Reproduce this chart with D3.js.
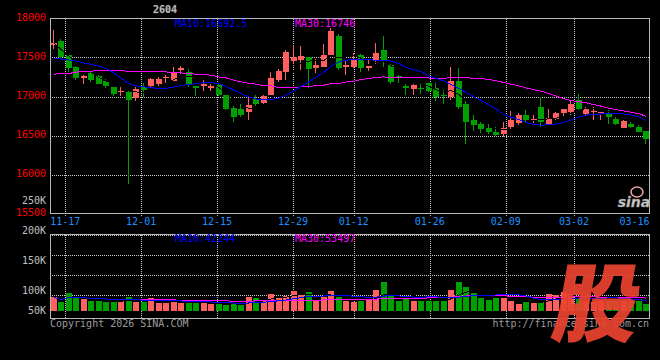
<!DOCTYPE html>
<html><head><meta charset="utf-8">
<script src="https://cdnjs.cloudflare.com/ajax/libs/d3/7.8.5/d3.min.js"></script>
<style>html,body{margin:0;padding:0;background:#000;} svg{display:block;}</style>
</head><body>
<svg id="chart" width="660" height="360"></svg>
<script>
// ---------- data ----------
const title = "2604";
const dates = ["11-13","11-14","11-17","11-18","11-19","11-20","11-21","11-24","11-25","11-26","11-27","11-28",
"12-01","12-02","12-03","12-04","12-05","12-08","12-09","12-10","12-11","12-12","12-15","12-16","12-17","12-18","12-19",
"12-22","12-23","12-24","12-25","12-26","12-29","12-30","12-31",
"01-05","01-06","01-07","01-08","01-09","01-12","01-13","01-14","01-15","01-16","01-19","01-20","01-21","01-22","01-23",
"01-26","01-27","01-28","01-29","01-30",
"02-02","02-03","02-04","02-05","02-06","02-09","02-10","02-11","02-12","02-13","02-24","02-25","02-26","02-27",
"03-02","03-03","03-04","03-05","03-06","03-09","03-10","03-11","03-12","03-13","03-16"];
const open  = [17665,17709,17529,17375,17231,17302,17260,17196,17123,17055,17059,16982,17123,17132,17158,17231,17200,17346,17308,17141,
17141,17110,17145,17017,16854,16837,16795,16965,16918,17017,17209,17315,17452,17469,17504,17367,17380,17529,17777,17380,
17380,17538,17367,17453,17593,17401,17260,17132,17090,17115,17167,17110,17017,16995,17196,16910,16696,16645,16590,16546,
16517,16610,16661,16768,16696,16859,16653,16709,16790,16795,16952,16782,16803,16790,16782,16709,16602,16645,16610,16555];
const high  = [17850,17735,17535,17388,17273,17315,17282,17230,17123,17128,17081,17123,17179,17238,17251,17282,17376,17392,17350,17141,
17222,17154,17166,17017,16875,16910,16995,17025,17025,17315,17350,17593,17658,17645,17504,17487,17679,17872,17799,17465,
17564,17551,17487,17687,17773,17423,17282,17166,17154,17179,17174,17167,17081,17380,17367,16965,16760,16674,16645,16603,
16674,16811,16790,16824,16768,16995,16846,16803,16846,16940,17029,16867,16867,16803,16824,16738,16696,16674,16632,16555];
const low   = [17615,17497,17315,17209,17158,17187,17154,17110,17004,17004,15876,16940,16995,17123,17132,17154,17196,17290,17123,17004,
17072,17072,17008,16824,16674,16738,16696,16880,16901,17017,17187,17187,17423,17337,17110,17295,17380,17529,17337,17273,
17359,17315,17324,17423,17380,17154,17179,17025,17017,17038,17059,16940,16901,16952,16837,16397,16555,16533,16517,16495,
16482,16568,16632,16674,16661,16610,16632,16696,16738,16760,16815,16760,16695,16705,16653,16632,16590,16597,16546,16388];
const close = [17690,17508,17359,17231,17260,17209,17161,17136,17038,17068,16956,17093,17077,17222,17222,17244,17308,17359,17158,17115,
17154,17132,17017,16837,16738,16769,16888,16910,17004,17238,17324,17572,17504,17517,17350,17401,17529,17837,17367,17401,
17487,17359,17393,17555,17465,17187,17231,17110,17145,17102,17072,16995,17004,17196,16867,16674,16632,16580,16546,16504,
16590,16696,16760,16696,16709,16674,16725,16794,16846,16910,16837,16846,16811,16798,16738,16645,16683,16610,16546,16449];
const ma10 = [17487,17481,17468,17452,17431,17411,17392,17356,17305,17235,17167,17135,17123,17111,17105,17106,17122,17141,17154,17164,
17179,17179,17167,17128,17082,17035,16995,16968,16961,16961,16981,17020,17072,17129,17188,17250,17309,17391,17443,17465,
17476,17477,17469,17467,17463,17454,17423,17372,17343,17318,17263,17229,17203,17151,17103,17052,16997,16950,16895,16837,
16770,16733,16705,16664,16642,16633,16638,16647,16668,16701,16737,16760,16772,16776,16782,16782,16776,16763,16738,16692.5];
const ma30 = [17286,17295,17295,17312,17324,17324,17337,17337,17337,17337,17315,17315,17315,17315,17315,17315,17308,17302,17295,17286,
17282,17273,17251,17238,17209,17187,17170,17158,17138,17136,17115,17115,17115,17123,17123,17145,17145,17167,17167,17187,
17196,17218,17231,17244,17251,17244,17244,17244,17244,17244,17237,17231,17231,17244,17244,17244,17231,17231,17218,17202,
17179,17158,17136,17109,17087,17068,17036,17004,16972,16949,16933,16918,16897,16876,16850,16831,16815,16799,16780,16746];
const volume = [56000,38000,73000,56000,48000,42000,42000,38000,38000,41000,56000,38000,38000,52000,34000,34000,45000,34000,34000,34000,
34000,29000,29000,25000,29000,25000,56000,52000,45000,70000,56000,62000,82000,70000,78000,42000,56000,82000,56000,42000,
38000,41000,49000,86000,120000,66000,41000,49000,41000,41000,41000,41000,41000,86000,120000,98000,75000,55000,45000,55000,
55000,41000,29000,38000,32000,38000,70000,66000,78000,70000,49000,41000,37000,41000,45000,41000,45000,45000,49000,29000];
const priceTicks = [15500,16000,16500,17000,17500,18000];
const volGridTicks = [50000,100000,150000,200000];
const volLabelTicks = [250000,200000,150000,100000,50000];
const dateTickIdx = [2,12,22,32,40,50,60,69,79];
const priceMaText = ["MA10:16692.5","MA30:16746"];
const volMaText = ["MA10:42244","MA30:53497"];

// ---------- layout ----------
const W = 660, H = 360;
const plotL = 50, plotR = 650;
const priceTop = 18.5, priceBot = 213.5, volTop = 234.5, volBot = 318.5;
const UP = "#FF5F5F", DOWN = "#00A000", GRID = "#C8C8C8", BORDER = "#B8B8B8";
const FONT = "'DejaVu Sans Mono', monospace";

const svg = d3.select("#chart");
svg.append("rect").attr("width", W).attr("height", H).attr("fill", "#000");

const idx = d3.range(dates.length);
const xBand = d3.scaleBand().domain(idx).range([plotL, plotR]).paddingInner(0.2).paddingOuter(0.1);
const xGrid = d3.scaleLinear().domain([0, dates.length - 1]).range([plotL, plotR]);
const yPrice = d3.scaleLinear().domain([15500, 18000]).range([priceBot, priceTop]);
const yVol = d3.scaleLinear().domain([0, 100000]).range([311, 286.6]);
const yVolGrid = d3.scaleLinear().domain([0, 200000]).range([315, 235]);
const yVolLabel = d3.scaleLinear().domain([100000, 250000]).range([290.7, 200.7]);
const cx = i => Math.round(xBand(i) + xBand.bandwidth() / 2) - 0.5;

function movingAvg(arr, n) {
  return arr.map((_, i) => d3.mean(arr.slice(Math.max(0, i - n + 1), i + 1)));
}

const g = svg.append("g").attr("shape-rendering", "crispEdges");

// ---------- grid ----------
const gridIdx = dateTickIdx.filter(i => xGrid(i) < plotR - 1);
g.selectAll(".vgp").data(gridIdx).join("line")
  .attr("x1", i => Math.round(xGrid(i)) + 0.5).attr("x2", i => Math.round(xGrid(i)) + 0.5)
  .attr("y1", priceTop).attr("y2", priceBot + 3)
  .attr("stroke", GRID).attr("stroke-dasharray", "1,1");
g.selectAll(".vgv").data(gridIdx).join("line")
  .attr("x1", i => Math.round(xGrid(i)) + 0.5).attr("x2", i => Math.round(xGrid(i)) + 0.5)
  .attr("y1", volTop).attr("y2", volBot)
  .attr("stroke", GRID).attr("stroke-dasharray", "1,1");
g.selectAll(".hgp").data(priceTicks.slice(1, -1)).join("line")
  .attr("x1", plotL).attr("x2", plotR)
  .attr("y1", d => Math.round(yPrice(d)) + 0.5).attr("y2", d => Math.round(yPrice(d)) + 0.5)
  .attr("stroke", GRID).attr("stroke-dasharray", "1,1");
g.selectAll(".hgv").data(volGridTicks).join("line")
  .attr("x1", plotL).attr("x2", plotR)
  .attr("y1", d => Math.round(yVolGrid(d)) + 0.5).attr("y2", d => Math.round(yVolGrid(d)) + 0.5)
  .attr("stroke", GRID).attr("stroke-dasharray", "1,1");

// ---------- borders ----------
g.append("rect").attr("x", plotL + 0.5).attr("y", priceTop).attr("width", plotR - plotL - 1).attr("height", priceBot - priceTop)
  .attr("fill", "none").attr("stroke", BORDER);
g.append("rect").attr("x", plotL + 0.5).attr("y", volTop).attr("width", plotR - plotL - 1).attr("height", volBot - volTop)
  .attr("fill", "none").attr("stroke", BORDER);

// ---------- candles ----------
const bw = xBand.bandwidth();
const cand = g.append("g");
cand.selectAll(".wick").data(idx).join("line")
  .attr("x1", cx).attr("x2", cx)
  .attr("y1", i => yPrice(high[i])).attr("y2", i => yPrice(low[i]))
  .attr("stroke", i => close[i] >= open[i] ? UP : DOWN);
cand.selectAll(".body").data(idx).join("rect")
  .attr("x", i => xBand(i))
  .attr("width", bw)
  .attr("y", i => yPrice(Math.max(open[i], close[i])))
  .attr("height", i => Math.max(1, Math.abs(yPrice(open[i]) - yPrice(close[i]))))
  .attr("fill", i => close[i] >= open[i] ? UP : DOWN);

// ---------- MA lines (price) ----------
const lineP = arr => d3.line().x(i => xBand(i) + bw / 2).y(i => yPrice(arr[i]))(idx);
const ma5 = movingAvg(close, 5);
g.append("path").attr("d", lineP(ma5)).attr("fill", "none").attr("stroke", "#000");
g.append("path").attr("d", lineP(ma30)).attr("fill", "none").attr("stroke", "#FF00FF");
g.append("path").attr("d", lineP(ma10)).attr("fill", "none").attr("stroke", "#0000FF");

// ---------- volume ----------
g.selectAll(".vbar").data(idx).join("rect")
  .attr("x", i => xBand(i)).attr("width", bw)
  .attr("y", i => yVol(volume[i]))
  .attr("height", i => yVol(0) - yVol(volume[i]))
  .attr("fill", i => close[i] >= open[i] ? UP : DOWN);
const lineV = arr => d3.line().x(i => xBand(i) + bw / 2).y(i => yVol(arr[i]))(idx);
g.append("path").attr("d", lineV(movingAvg(volume, 5))).attr("fill", "none").attr("stroke", "#000");
g.append("path").attr("d", lineV(movingAvg(volume, 30))).attr("fill", "none").attr("stroke", "#FF00FF");
g.append("path").attr("d", lineV(movingAvg(volume, 10))).attr("fill", "none").attr("stroke", "#0000FF");

// ---------- text ----------
const t = svg.append("g").attr("font-family", FONT).attr("font-size", "10px");
t.selectAll(".pl").data(priceTicks).join("text")
  .attr("x", 46).attr("y", d => yPrice(d) + 2).attr("text-anchor", "end")
  .attr("fill", "#FF0000").text(d => d);
t.selectAll(".vl").data(volLabelTicks).join("text")
  .attr("x", 46).attr("y", d => Math.min(yVolLabel(d), 310.7) + 3.6).attr("text-anchor", "end")
  .attr("fill", "#C0C0C0").text(d => (d / 1000) + "K");
t.selectAll(".dl").data(dateTickIdx).join("text")
  .attr("x", i => xGrid(i) >= plotR - 1 ? plotR - 0.5 : xGrid(i))
  .attr("y", 224.8)
  .attr("text-anchor", i => xGrid(i) >= plotR - 1 ? "end" : "middle")
  .attr("fill", "#1E90FF").text(i => dates[i]);
t.append("text").attr("x", 175).attr("y", 27.3).attr("fill", "#0000FF").text(priceMaText[0]);
t.append("text").attr("x", 295).attr("y", 27.3).attr("fill", "#FF00FF").text(priceMaText[1]);
t.append("text").attr("x", 175).attr("y", 242).attr("fill", "#0000FF").text(volMaText[0]);
t.append("text").attr("x", 295).attr("y", 242).attr("fill", "#FF00FF").text(volMaText[1]);
t.append("text").attr("x", 165).attr("y", 13.3).attr("text-anchor", "middle").attr("font-weight", "bold")
  .attr("fill", "#D8D8D8").attr("stroke", "#707070").attr("stroke-width", 0.4).text(title);
t.append("text").attr("x", plotL).attr("y", 326.5).attr("fill", "#9A9A9A").text("Copyright 2026 SINA.COM");
t.append("text").attr("x", plotR - 1).attr("y", 326.5).attr("text-anchor", "end").attr("fill", "#9A9A9A").text("http://finance.sina.com.cn");

// sina watermark
const wm = svg.append("g");
wm.append("ellipse").attr("cx", 637).attr("cy", 192).attr("rx", 6).attr("ry", 5)
  .attr("fill", "none").attr("stroke", "#F0A8A8").attr("stroke-width", 1.5);
wm.append("text").attr("x", 634).attr("y", 207).attr("text-anchor", "middle")
  .attr("font-family", "'DejaVu Sans', sans-serif").attr("font-size", "14px").attr("font-weight", "bold")
  .attr("font-style", "italic").attr("fill", "#C8C8C8").attr("stroke", "#888").attr("stroke-width", 0.4).text("sina");

// big logo
svg.append("g").attr("transform", "translate(592,335) skewX(-10)")
  .append("text").attr("text-anchor", "middle")
  .attr("font-family", "'Noto Sans CJK SC', sans-serif").attr("font-size", "86px").attr("font-weight", "900")
  .attr("fill", "#EA4330").attr("fill-opacity", 0.93).text("股");
</script>
</body></html>
